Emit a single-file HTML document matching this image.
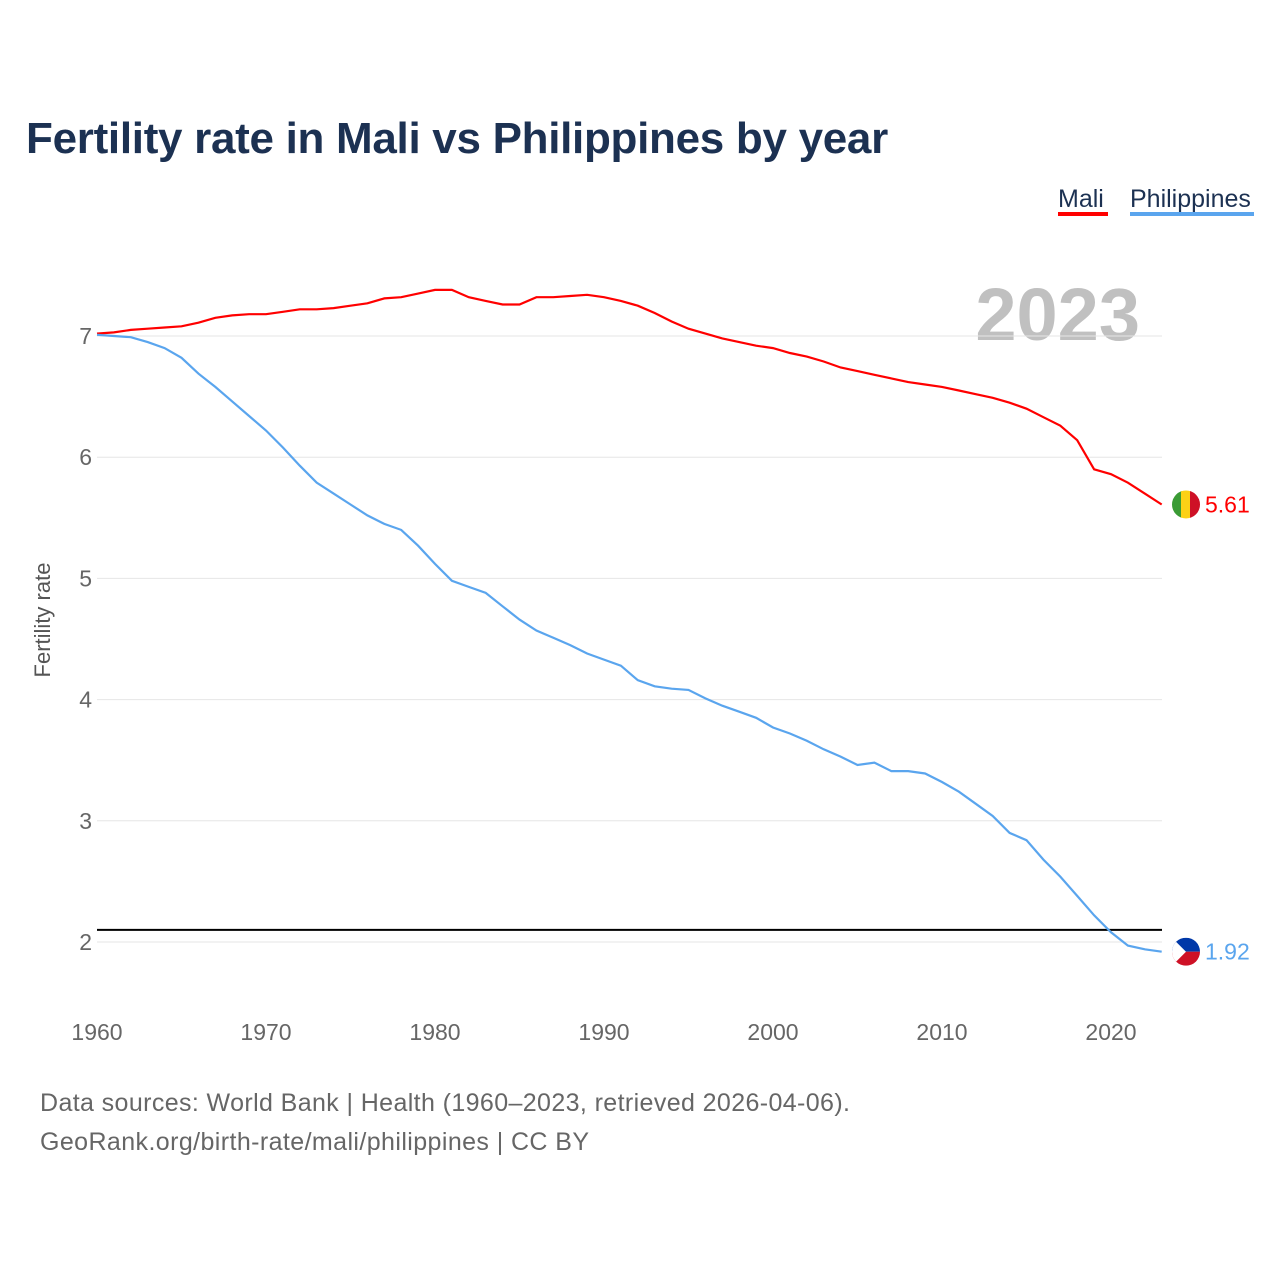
<!DOCTYPE html>
<html><head><meta charset="utf-8"><style>
body{margin:0;background:#fff;width:1280px;height:1280px;overflow:hidden;font-family:"Liberation Sans",sans-serif}
</style></head><body>
<svg width="1280" height="1280" id="chart" font-family="Liberation Sans, sans-serif">
<defs><clipPath id="cm"><circle id="cmc" cx="1186" cy="500" r="14"/></clipPath><clipPath id="cp"><circle id="cpc" cx="1186" cy="950" r="14"/></clipPath></defs>
<text x="26" y="153" font-size="44" font-weight="bold" fill="#1c3152" letter-spacing="-0.3">Fertility rate in Mali vs Philippines by year</text>
<g><text x="1058" y="207" font-size="25" fill="#1c3152">Mali</text><rect x="1058" y="212" width="50" height="4" fill="#f00"/></g>
<g><text x="1130" y="207" font-size="25" fill="#1c3152">Philippines</text><rect x="1130" y="212" width="124" height="4" fill="#5aa5ee"/></g>
<text x="1140" y="340" font-size="74" font-weight="bold" fill="#c0c0c0" text-anchor="end">2023</text>
<text transform="translate(50,620) rotate(-90)" font-size="22" fill="#555" text-anchor="middle">Fertility rate</text>
<g id="grid"></g><g id="series"></g>
<text x="40" y="1111" font-size="25" fill="#666" textLength="810">Data sources: World Bank | Health (1960–2023, retrieved 2026-04-06).</text>
<text x="40" y="1150" font-size="25" fill="#666" textLength="549">GeoRank.org/birth-rate/mali/philippines | CC BY</text>
</svg>
<script>
const years=[];for(let y=1960;y<=2023;y++)years.push(y);
const maliValues=[7.02,7.03,7.05,7.06,7.07,7.08,7.11,7.15,7.17,7.18,7.18,7.2,7.22,7.22,7.23,7.25,7.27,7.31,7.32,7.35,7.38,7.38,7.32,7.29,7.26,7.26,7.32,7.32,7.33,7.34,7.32,7.29,7.25,7.19,7.12,7.06,7.02,6.98,6.95,6.92,6.9,6.86,6.83,6.79,6.74,6.71,6.68,6.65,6.62,6.6,6.58,6.55,6.52,6.49,6.45,6.4,6.33,6.26,6.14,5.9,5.86,5.79,5.7,5.61];
const phlValues=[7.01,7.0,6.99,6.95,6.9,6.82,6.69,6.58,6.46,6.34,6.22,6.08,5.93,5.79,5.7,5.61,5.52,5.45,5.4,5.27,5.12,4.98,4.93,4.88,4.77,4.66,4.57,4.51,4.45,4.38,4.33,4.28,4.16,4.11,4.09,4.08,4.01,3.95,3.9,3.85,3.77,3.72,3.66,3.59,3.53,3.46,3.48,3.41,3.41,3.39,3.32,3.24,3.14,3.04,2.9,2.84,2.68,2.54,2.38,2.22,2.08,1.97,1.94,1.92];
const yTicks=[2,3,4,5,6,7];
const xTicks=[1960,1970,1980,1990,2000,2010,2020];
const replacementRate=2.1;
const X=y=>97+(y-1960)*16.9, Y=v=>336+(7-v)*121.2;
const NS="http://www.w3.org/2000/svg";
const mk=(t,a,p)=>{const e=document.createElementNS(NS,t);for(const k in a)e.setAttribute(k,a[k]);p.appendChild(e);return e;};
const g=document.getElementById('grid'),s=document.getElementById('series');
yTicks.forEach(v=>{const l=mk('line',{x1:97,x2:1162,y1:Y(v),y2:Y(v),stroke:'#e6e6e6'},g);


const t=mk('text',{x:92,y:Y(v)+8,'font-size':23,fill:'#666','text-anchor':'end'},g);t.textContent=v;

});
xTicks.forEach(v=>{const t=mk('text',{x:X(v),y:1040,'font-size':23,fill:'#666','text-anchor':'middle'},g);t.textContent=v;

});
const rl=mk('line',{x1:97,x2:1162,y1:Y(replacementRate),y2:Y(replacementRate),stroke:'#000','stroke-width':2},s);


function line(vals,col,name){const p=mk('path',{d:vals.map((v,i)=>(i?'L':'M')+X(years[i]).toFixed(1)+','+Y(v).toFixed(1)).join(''),fill:'none',stroke:col,'stroke-width':2.2},s);


const last=vals[vals.length-1],cy=Y(last);
const t=mk('text',{x:1205,y:cy+8,'font-size':23,fill:col},s);t.textContent=last.toFixed(2);

return cy;}
const my=line(maliValues,'#f00','mali');
document.getElementById('cmc').setAttribute('cy',my);
const mf=mk('g',{'clip-path':'url(#cm)'},s);


mk('rect',{x:1172,y:my-14,width:10,height:28,fill:'#3a9b35'},mf);mk('rect',{x:1181,y:my-14,width:10,height:28,fill:'#fcd116'},mf);mk('rect',{x:1190,y:my-14,width:10,height:28,fill:'#ce1126'},mf);
const py=line(phlValues,'#5aa5ee','philippines');
document.getElementById('cpc').setAttribute('cy',py);
const pf=mk('g',{'clip-path':'url(#cp)'},s);


mk('rect',{x:1172,y:py-14,width:28,height:14,fill:'#0038a8'},pf);mk('rect',{x:1172,y:py,width:28,height:14,fill:'#ce1126'},pf);mk('path',{d:`M1172,${py-14}L1186,${py}L1172,${py+14}Z`,fill:'#fff'},pf);
</script>
</body></html>
